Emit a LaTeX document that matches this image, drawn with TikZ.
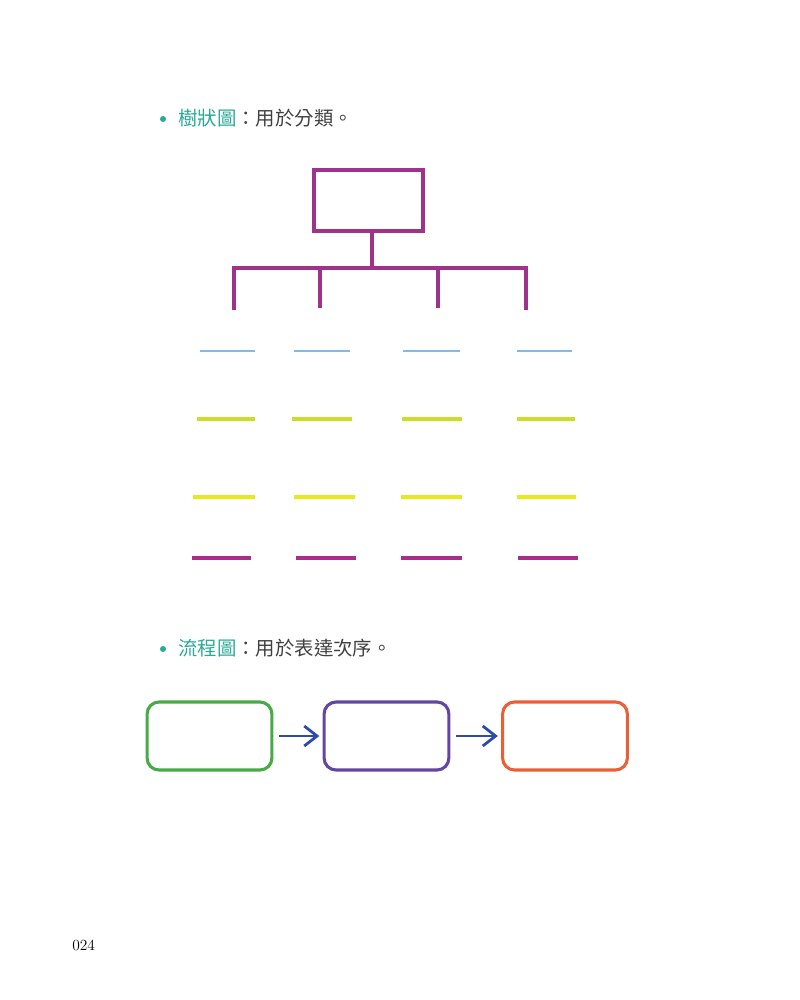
\documentclass[tikz,border=0pt]{standalone}
\usepackage{fontspec}
\usepackage{xcolor}
\usetikzlibrary{arrows.meta}
\newfontfamily\cjk{Noto Sans CJK TC}
\definecolor{headteal}{RGB}{40,170,150}
\definecolor{treepurple}{RGB}{160,50,140}
\definecolor{rowblue}{RGB}{130,185,235}
\definecolor{rowlime}{RGB}{205,220,40}
\definecolor{rowyellow}{RGB}{232,232,30}
\definecolor{rowmagenta}{RGB}{170,45,140}
\definecolor{flowgreen}{RGB}{70,170,70}
\definecolor{flowviolet}{RGB}{100,70,160}
\definecolor{floworange}{RGB}{235,95,55}
\definecolor{flowblue}{RGB}{45,75,170}
\tikzstyle{heading} = [anchor=base west, inner sep=0pt, font=\cjk\fontsize{13.8pt}{16pt}\selectfont, text=black!75]
\tikzstyle{dot} = [circle, fill=headteal, inner sep=0pt, minimum size=0.15cm]
\tikzstyle{treebox} = [rectangle, draw=treepurple, line width=2.8pt, minimum width=2.72cm, minimum height=1.52cm]
\tikzstyle{treeline} = [draw=treepurple, line width=2.8pt]
\tikzstyle{rowline} = [line width=2.6pt]
\tikzstyle{flowbox} = [rectangle, rounded corners=0.3cm, line width=2.2pt, minimum width=3.12cm, minimum height=1.7cm]
\tikzstyle{arrow} = [draw=flowblue, line width=2pt, -{Straight Barb[length=0.32cm, width=0.5cm]}, shorten <=0.15cm, shorten >=0.08cm]

\begin{document}
\begin{tikzpicture}[x=0.025cm, y=-0.025cm]
        \useasboundingbox (0,0) rectangle (800,1000);

        % first heading
        \node[dot] (dota) at (163,119) {};
        \node[heading] (heada) at (178,125) {\textcolor{headteal}{樹狀圖}：用於分類。};

        % tree
        \node[treebox] (root) at (368.5,200.5) {};
        \coordinate (bar) at (372,268);
        \coordinate (leg1) at (234,310);
        \coordinate (leg2) at (320,308);
        \coordinate (leg3) at (438,308);
        \coordinate (leg4) at (526,310);

        \draw[treeline] (root.south -| bar) -- (bar);
        \draw[treeline] (leg1) -- (leg1 |- bar) -- (leg4 |- bar) -- (leg4);
        \draw[treeline] (leg2 |- bar) -- (leg2);
        \draw[treeline] (leg3 |- bar) -- (leg3);

        % rows under the tree
        \draw[rowline, rowblue, line width=1.8pt] (200,351) -- (255,351);
        \draw[rowline, rowblue, line width=1.8pt] (294,351) -- (350,351);
        \draw[rowline, rowblue, line width=1.8pt] (403,351) -- (460,351);
        \draw[rowline, rowblue, line width=1.8pt] (517,351) -- (572,351);

        \draw[rowline, rowlime] (197,419) -- (255,419);
        \draw[rowline, rowlime] (292,419) -- (352,419);
        \draw[rowline, rowlime] (402,419) -- (462,419);
        \draw[rowline, rowlime] (517,419) -- (575,419);

        \draw[rowline, rowyellow] (193,497) -- (255,497);
        \draw[rowline, rowyellow] (294,497) -- (355,497);
        \draw[rowline, rowyellow] (401,497) -- (462,497);
        \draw[rowline, rowyellow] (517,497) -- (576,497);

        \draw[rowline, rowmagenta] (192,558) -- (251,558);
        \draw[rowline, rowmagenta] (296,558) -- (356,558);
        \draw[rowline, rowmagenta] (401,558) -- (462,558);
        \draw[rowline, rowmagenta] (518,558) -- (578,558);

        % second heading
        \node[dot] (dotb) at (163,649) {};
        \node[heading] (headb) at (178,655) {\textcolor{headteal}{流程圖}：用於表達次序。};

        % flow
        \node[flowbox, draw=flowgreen] (first) at (209.5,736) {};
        \node[flowbox, draw=flowviolet] (second) at (386.5,736) {};
        \node[flowbox, draw=floworange] (third) at (565,736) {};

        \draw[arrow] (first) -- (second);
        \draw[arrow] (second) -- (third);

        % page number
        \node[anchor=base west, inner sep=0pt, font=\fontsize{11pt}{13pt}\selectfont] (page) at (72,950) {024};

    \end{tikzpicture}
\end{document}
